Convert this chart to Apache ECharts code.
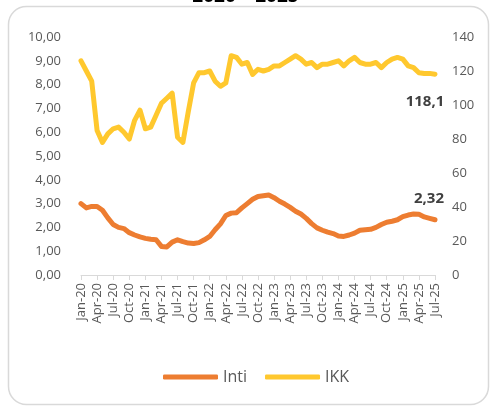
<!DOCTYPE html>
<html>
<head>
<meta charset="utf-8">
<script src="https://cdn.jsdelivr.net/npm/echarts@6/dist/echarts.min.js"></script>
<style>
  html, body { margin: 0; padding: 0; background: #ffffff; }
  #chart { width: 491px; height: 409px; }
</style>
</head>
<body>
<div id="chart"></div>
<script>
// Monthly categories, Jan-20 .. Jul-25
const months = [
  'Jan-20','Feb-20','Mar-20','Apr-20','May-20','Jun-20','Jul-20','Aug-20','Sep-20','Oct-20','Nov-20','Dec-20',
  'Jan-21','Feb-21','Mar-21','Apr-21','May-21','Jun-21','Jul-21','Aug-21','Sep-21','Oct-21','Nov-21','Dec-21',
  'Jan-22','Feb-22','Mar-22','Apr-22','May-22','Jun-22','Jul-22','Aug-22','Sep-22','Oct-22','Nov-22','Dec-22',
  'Jan-23','Feb-23','Mar-23','Apr-23','May-23','Jun-23','Jul-23','Aug-23','Sep-23','Oct-23','Nov-23','Dec-23',
  'Jan-24','Feb-24','Mar-24','Apr-24','May-24','Jun-24','Jul-24','Aug-24','Sep-24','Oct-24','Nov-24','Dec-24',
  'Jan-25','Feb-25','Mar-25','Apr-25','May-25','Jun-25','Jul-25'
];

// Inflasi inti (left axis, %)
const inti = [
  3.00, 2.82, 2.88, 2.88, 2.72, 2.40, 2.12, 2.00, 1.95, 1.78, 1.68, 1.60,
  1.54, 1.50, 1.48, 1.20, 1.18, 1.38, 1.48, 1.40, 1.34, 1.32, 1.36, 1.48,
  1.62, 1.90, 2.15, 2.50, 2.60, 2.62, 2.82, 3.00, 3.18, 3.30, 3.33, 3.36,
  3.25, 3.10, 2.98, 2.84, 2.68, 2.56, 2.38, 2.16, 1.98, 1.88, 1.80, 1.74,
  1.64, 1.62, 1.68, 1.76, 1.88, 1.90, 1.92, 2.00, 2.12, 2.22, 2.26, 2.32,
  2.45, 2.52, 2.56, 2.55, 2.44, 2.38, 2.32
];

// Indeks Keyakinan Konsumen (right axis)
const ikk = [
  126, 120, 114, 85, 78, 83, 86, 87, 84, 80, 91, 97,
  86, 87, 94, 101, 104, 107, 81, 78, 96, 113, 119, 119,
  120, 114, 111, 113, 129, 128, 124, 125, 118, 121, 120, 121,
  123, 123, 125, 127, 129, 127, 124, 125, 122, 124, 124, 125,
  126, 123, 126, 128, 125, 124, 124, 125, 122, 125, 127, 128,
  127, 123, 122, 119, 118.5, 118.6, 118.1
];

const leftTicks = { min: 0, max: 10, interval: 1 };
const rightTicks = { min: 0, max: 140, interval: 20 };

const FONT = '"Open Sans", "Noto Sans", sans-serif';
const ORANGE = '#ED7D31';
const GOLD = '#FFC82E';
const comma = v => String(v).replace('.', ',');

// Put a value label on the final point of a series only
function withEndLabel(values, labelOpts) {
  return values.map((v, i) => i === values.length - 1
    ? { value: v, label: Object.assign({
        show: true,
        fontFamily: FONT, fontSize: 15, fontWeight: 'bold', color: '#404040',
        formatter: p => comma(p.value)
      }, labelOpts) }
    : v);
}

const chart = echarts.init(document.getElementById('chart'), null, { renderer: 'canvas' });

chart.setOption({
  animation: false,
  backgroundColor: '#ffffff',
  title: {
    text: '2020 – 2025',
    left: 'center',
    top: -18,
    textStyle: { fontFamily: FONT, fontSize: 19, fontWeight: 'bold', color: '#000000' }
  },
  graphic: [{
    type: 'rect',
    shape: { x: 8.5, y: 6.5, width: 480, height: 398, r: 18 },
    style: { fill: 'none', stroke: '#d9d9d9', lineWidth: 1.5 },
    silent: true
  }],
  grid: { left: 81, right: 56, top: 37, bottom: 134 },
  legend: {
    left: 158,
    top: 364,
    icon: 'roundRect',
    itemWidth: 55,
    itemHeight: 5,
    itemGap: 18,
    textStyle: { fontFamily: FONT, fontSize: 16, color: '#595959' },
    data: ['Inti', 'IKK']
  },
  xAxis: {
    type: 'category',
    data: months,
    boundaryGap: false,
    axisLine: { lineStyle: { color: '#d9d9d9', width: 1 } },
    axisTick: { show: true, interval: 2, length: 5, lineStyle: { color: '#d9d9d9' } },
    axisLabel: {
      interval: 2, rotate: 90, margin: 8,
      fontFamily: FONT, fontSize: 13, color: '#595959'
    },
    splitLine: { show: false }
  },
  yAxis: [{
    type: 'value',
    min: leftTicks.min, max: leftTicks.max, interval: leftTicks.interval,
    axisLine: { show: false }, axisTick: { show: false }, splitLine: { show: false },
    axisLabel: {
      margin: 20, fontFamily: FONT, fontSize: 13, color: '#595959',
      formatter: v => v.toFixed(2).replace('.', ',')
    }
  }, {
    type: 'value',
    min: rightTicks.min, max: rightTicks.max, interval: rightTicks.interval,
    axisLine: { show: false }, axisTick: { show: false }, splitLine: { show: false },
    axisLabel: { margin: 17, fontFamily: FONT, fontSize: 13, color: '#595959' }
  }],
  series: [{
    name: 'Inti',
    type: 'line',
    yAxisIndex: 0,
    data: withEndLabel(inti, { position: 'top', distance: 14, offset: [-6, 0] }),
    symbol: 'circle',
    symbolSize: 0,
    showSymbol: true,
    smooth: false,
    lineStyle: { color: ORANGE, width: 5, cap: 'round', join: 'round' },
    itemStyle: { color: ORANGE },
    z: 3
  }, {
    name: 'IKK',
    type: 'line',
    yAxisIndex: 1,
    data: withEndLabel(ikk, { position: 'bottom', distance: 20, offset: [-10, 0] }),
    symbol: 'circle',
    symbolSize: 0,
    showSymbol: true,
    smooth: false,
    lineStyle: { color: GOLD, width: 5, cap: 'round', join: 'round' },
    itemStyle: { color: GOLD },
    z: 2
  }]
});
</script>
</body>
</html>
